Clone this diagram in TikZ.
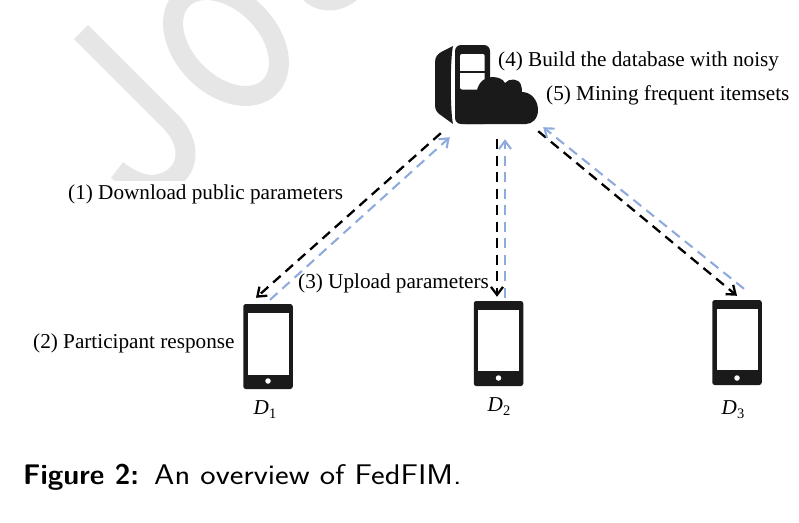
\documentclass[tikz,border=0pt]{standalone}
\usepackage{fontspec}
\usepackage{graphicx}
\setmainfont{Liberation Serif}
\usetikzlibrary{calc,arrows.meta}

\definecolor{upblue}{HTML}{8FAADC}
\definecolor{markgray}{HTML}{E6E6E6}
\definecolor{iconblack}{HTML}{1A1A1A}

\newcommand{\devname}[1]{\textit{D}\raisebox{-4pt}{\fontsize{14.5}{15}\selectfont #1}}

\tikzset{
  phone/.style={fill=iconblack,rounded corners=2.5pt,minimum width=49.5pt,minimum height=85pt,inner sep=0pt},
  screen/.style={fill=white,minimum width=41pt,minimum height=61.5pt,inner sep=0pt},
  homekey/.style={circle,fill=white,minimum size=5.5pt,inner sep=0pt},
  lbl/.style={anchor=base west,inner sep=0pt,font=\fontsize{21.2}{24}\selectfont},
  devlbl/.style={anchor=base,inner sep=0pt,font=\fontsize{21.2}{24}\selectfont},
  down/.style={black,line width=2.3pt,dash pattern=on 10pt off 6.5pt,-{Straight Barb[length=8pt,width=12pt,line width=2.3pt]}},
  up/.style={upblue,line width=2.1pt,dash pattern=on 10pt off 6.5pt,-{Straight Barb[length=8pt,width=12pt,line width=2.1pt]}},
  wmark/.style={markgray,line width=20pt}
}

\begin{document}
\begin{tikzpicture}[x=1pt,y=-1pt]
  \useasboundingbox (0,0) rectangle (799,522);

  %% Watermark behind the figure
  \begin{scope}
    \clip (0,0) rectangle (799,180);
    \draw[wmark] (81,32) -- (170,121) .. controls (192,143) and (190,170) .. (168,181)
      .. controls (150,190) and (132,182) .. (117,170);
    \draw[wmark,rotate around={-45:(226,43)}] (226,43) ellipse (62 and 42);
    \fill[markgray] (303,0) .. controls (318,14) and (340,14) .. (357,0) -- cycle;
  \end{scope}

  %% Server and cloud
  \node[minimum width=103pt,minimum height=79pt,inner sep=0pt] (server) at (486.5,84.5) {};
  \fill[iconblack] (453,46) -- (443,51) .. controls (437,54) and (435,57) .. (435,63)
    -- (435,105) .. controls (435,110) and (437,113) .. (442,116) -- (453,124)
    .. controls (450,110) and (450,60) .. (453,46) -- cycle;
  \fill[iconblack,rounded corners=6pt] (455,45) rectangle (490,124);
  \fill[white,rounded corners=2pt] (460,54) rectangle (484.7,89.5);
  \fill[iconblack] (460,71) rectangle (484.7,72.8);
  \fill[iconblack] (465,124) -- (465,90) -- (477,90)
    .. controls (479,82) and (485,77) .. (492,77)
    .. controls (498,77) and (503,79) .. (505,83)
    .. controls (509,78) and (519,78) .. (521,85)
    .. controls (522,88) and (522,90) .. (522,92)
    .. controls (531,92) and (538,100) .. (538,110)
    .. controls (538,119) and (532,124) .. (526,124) -- cycle;

  %% Phones
  \foreach \name/\cx/\cy/\sy/\ky in {phoneA/268/346.5/344/381, phoneB/498.5/343.5/340.5/378, phoneC/737/342.5/339.5/378}
  {
    \node[phone] (\name) at (\cx,\cy) {};
    \node[screen] (\name S) at (\cx,\sy) {};
    \node[homekey] (\name K) at (\cx,\ky) {};
  }

  %% Transfers
  \draw[down] ($(server.south west)+(6,9)$) -- ($(phoneA.north)+(-12,-6)$);
  \draw[up] ($(phoneA.north)+(2,-4)$) -- ($(server.south west)+(15,13)$);
  \draw[down] ($(server.south)+(10.5,15)$) -- ($(phoneB.north)+(-1.5,-4)$);
  \draw[up] ($(phoneB.north)+(6.5,-3)$) -- ($(server.south)+(18.5,15)$);
  \draw[down] ($(server.south east)+(0,7)$) -- ($(phoneC.north)+(0,-4)$);
  \draw[up] ($(phoneC.north)+(7,-11)$) -- ($(server.south east)+(5,3)$);

  %% Labels
  \node[lbl] (build) at (498,66) {(4) Build the database with noisy};
  \node[lbl] (mining) at (546,100) {(5) Mining frequent itemsets};
  \node[lbl] (download) at (68,199) {(1) Download public parameters};
  \node[lbl] (upload) at (298,288) {(3) Upload parameters};
  \node[lbl] (respond) at (33,348) {(2) Participant response};
  \node[devlbl] (devA) at (265,414) {\devname{1}};
  \node[devlbl] (devB) at (499,411) {\devname{2}};
  \node[devlbl] (devC) at (733,414) {\devname{3}};

  \node[anchor=base west,inner sep=0pt,font=\sffamily\fontsize{28.4}{32}\selectfont] (caption) at (23,484)
    {\textbf{Figure 2:}\hspace{15pt}\scalebox{1.146}[1]{An overview of FedFIM.}};
\end{tikzpicture}
\end{document}
